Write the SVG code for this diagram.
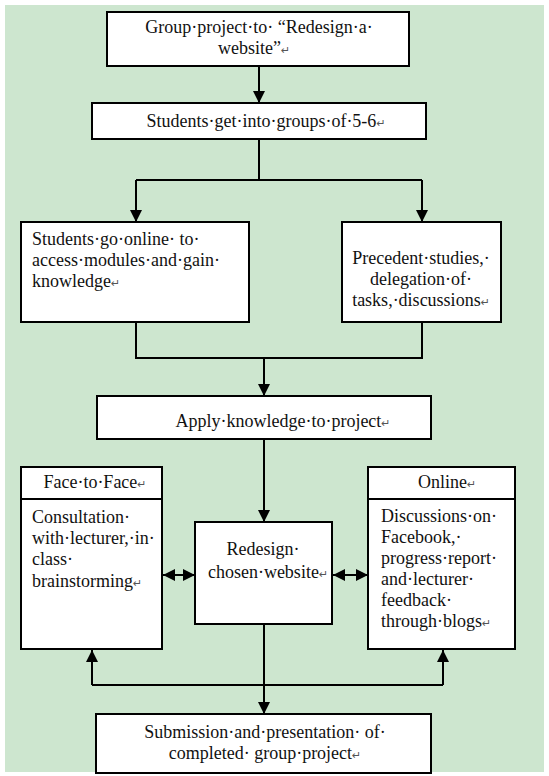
<svg xmlns="http://www.w3.org/2000/svg" width="549" height="776" viewBox="0 0 549 776">
<defs>
<style>
.box{fill:#ffffff;stroke:#000;stroke-width:2}
.ln{fill:none;stroke:#000;stroke-width:2}
.t{font-family:'Liberation Serif','DejaVu Serif',serif;font-size:18px;fill:#111}
.c{text-anchor:middle}
.rt{font-family:'DejaVu Sans',sans-serif;font-size:11px;fill:#555}
</style>
<marker id="ah" viewBox="0 0 12 12" refX="12" refY="6" markerWidth="12" markerHeight="12" markerUnits="userSpaceOnUse" orient="auto-start-reverse">
<path d="M0,0 L12,6 L0,12 Z" fill="#000"/>
</marker>
</defs>
<rect x="0" y="0" width="549" height="776" fill="#ffffff"/>
<rect x="5" y="5" width="539" height="767" fill="#cde6cf"/>

<g id="connectors">
<line class="ln" x1="259" y1="66" x2="259" y2="103" marker-end="url(#ah)"/>
<polyline class="ln" points="259,139 259,180"/>
<polyline class="ln" points="136,180 422,180"/>
<line class="ln" x1="136" y1="180" x2="136" y2="222" marker-end="url(#ah)"/>
<line class="ln" x1="422" y1="180" x2="422" y2="222" marker-end="url(#ah)"/>
<polyline class="ln" points="136,322 136,358 422,358 422,322"/>
<line class="ln" x1="264" y1="358" x2="264" y2="396" marker-end="url(#ah)"/>
<line class="ln" x1="264" y1="439" x2="264" y2="522" marker-end="url(#ah)"/>
<line class="ln" x1="163" y1="575" x2="195" y2="575" marker-start="url(#ah)" marker-end="url(#ah)"/>
<line class="ln" x1="333" y1="575" x2="368" y2="575" marker-start="url(#ah)" marker-end="url(#ah)"/>
<line class="ln" x1="264" y1="624" x2="264" y2="714" marker-end="url(#ah)"/>
<polyline class="ln" points="92,685 443,685"/>
<line class="ln" x1="92" y1="685" x2="92" y2="650" marker-end="url(#ah)"/>
<line class="ln" x1="443" y1="685" x2="443" y2="650" marker-end="url(#ah)"/>
</g>

<g id="n-project">
<rect class="box" x="107" y="12" width="302" height="54"/>
<text class="t c" x="259" y="33" font-family="Liberation Serif">Group·project·to· “Redesign·a·</text>
<text class="t c" x="254" y="54" font-family="Liberation Serif">website”<tspan class="rt">↵</tspan></text>
</g>

<g id="n-groups">
<rect class="box" x="92" y="103" width="334" height="36"/>
<text class="t c" x="266" y="127">Students·get·into·groups·of·5-6<tspan class="rt">↵</tspan></text>
</g>

<g id="n-online-modules">
<rect class="box" x="21" y="222" width="228" height="100"/>
<text class="t" x="32" y="245">Students·go·online· to·</text>
<text class="t" x="32" y="266">access·modules·and·gain·</text>
<text class="t" x="32" y="287">knowledge<tspan class="rt">↵</tspan></text>
</g>

<g id="n-precedent">
<rect class="box" x="342" y="222" width="159" height="100"/>
<text class="t c" x="421" y="264">Precedent·studies,·</text>
<text class="t c" x="421" y="285">delegation·of·</text>
<text class="t c" x="421" y="306">tasks,·discussions<tspan class="rt">↵</tspan></text>
</g>

<g id="n-apply">
<rect class="box" x="97" y="396" width="334" height="43"/>
<text class="t c" x="283" y="427">Apply·knowledge·to·project<tspan class="rt">↵</tspan></text>
</g>

<g id="n-face">
<rect class="box" x="21" y="467" width="141" height="182"/>
<line class="ln" x1="21" y1="499" x2="162" y2="499"/>
<text class="t c" x="95" y="488">Face·to·Face<tspan class="rt">↵</tspan></text>
<text class="t" x="32" y="523">Consultation·</text>
<text class="t" x="32" y="544">with·lecturer,·in·</text>
<text class="t" x="32" y="565">class·</text>
<text class="t" x="32" y="587">brainstorming<tspan class="rt">↵</tspan></text>
</g>

<g id="n-redesign">
<rect class="box" x="195" y="522" width="137" height="102"/>
<text class="t c" x="263" y="555">Redesign·</text>
<text class="t c" x="268" y="578">chosen·website<tspan class="rt">↵</tspan></text>
</g>

<g id="n-online">
<rect class="box" x="368" y="467" width="147" height="182"/>
<line class="ln" x1="368" y1="499" x2="515" y2="499"/>
<text class="t c" x="447" y="488">Online<tspan class="rt">↵</tspan></text>
<text class="t" x="381" y="522">Discussions·on·</text>
<text class="t" x="381" y="543">Facebook,·</text>
<text class="t" x="381" y="564">progress·report·</text>
<text class="t" x="381" y="585">and·lecturer·</text>
<text class="t" x="381" y="606">feedback·</text>
<text class="t" x="381" y="627">through·blogs<tspan class="rt">↵</tspan></text>
</g>

<g id="n-submission">
<rect class="box" x="96" y="714" width="335" height="59"/>
<text class="t c" x="265" y="738">Submission·and·presentation· of·</text>
<text class="t c" x="265" y="759">completed· group·project<tspan class="rt">↵</tspan></text>
</g>
</svg>
